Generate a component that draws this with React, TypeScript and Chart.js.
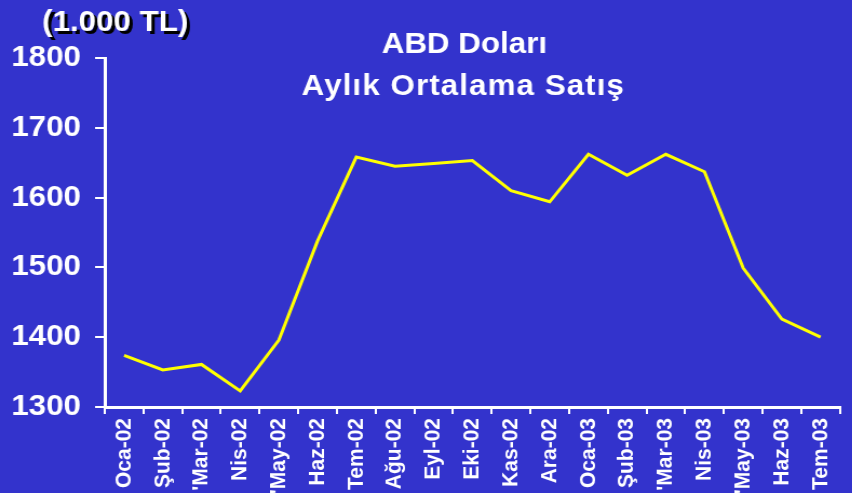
import { useEffect, useRef } from "react";
import { Chart, registerables } from "chart.js";

Chart.register(...registerables);

const categories = [
  "Oca-02", "Şub-02", "'Mar-02", "Nis-02", "'May-02", "Haz-02", "Tem-02",
  "Ağu-02", "Eyl-02", "Eki-02", "Kas-02", "Ara-02", "Oca-03", "Şub-03",
  "'Mar-03", "Nis-03", "'May-03", "Haz-03", "Tem-03",
];
const usdSales = [
  1374, 1353, 1361, 1323, 1396, 1538, 1658, 1645, 1649, 1653, 1610, 1594,
  1662, 1632, 1662, 1637, 1499, 1426, 1400,
];
const yMin = 1300;
const yMax = 1800;
const yStep = 100;
const titleLine1 = "ABD Doları";
const titleLine2 = "Aylık Ortalama Satış";
const unitLabel = "(1.000 TL)";

const W = 852;
const H = 493;
const STRETCH = 1.08;
const CW = Math.round(W / STRETCH);
const FONT = "'Liberation Sans', Arial, Helvetica, sans-serif";

export default function App() {
  const ref = useRef<HTMLCanvasElement>(null);

  useEffect(() => {
    document.body.style.margin = "0";
    const canvas = ref.current;
    if (!canvas) return;

    const textPlugin = {
      id: "textPlugin",
      afterDraw(chart: any) {
        const ctx = chart.ctx as CanvasRenderingContext2D;
        ctx.save();
        ctx.textBaseline = "alphabetic";
        ctx.font = `bold 29px ${FONT}`;
        ctx.fillStyle = "#ffffff";
        ctx.textAlign = "center";
        ctx.fillText(titleLine1, 430, 53);
        (ctx as any).letterSpacing = "1px";
        ctx.fillText(titleLine2, 429, 95);
        (ctx as any).letterSpacing = "0px";
        ctx.textAlign = "left";
        ctx.fillStyle = "#000000";
        ctx.fillText(unitLabel, 42, 34);
        ctx.fillStyle = "#ffffff";
        ctx.fillText(unitLabel, 39, 31);
        ctx.restore();
      },
    };

    const chart = new Chart(canvas, {
      type: "line",
      data: {
        labels: categories,
        datasets: [
          {
            data: usdSales,
            borderColor: "#ffff00",
            borderWidth: 3,
            pointRadius: 0,
            tension: 0,
            fill: false,
          },
        ],
      },
      options: {
        responsive: false,
        animation: false,
        devicePixelRatio: 1,
        layout: { padding: { top: 58, right: 1, left: 0, bottom: 0 } },
        plugins: {
          legend: { display: false },
          tooltip: { enabled: false },
          title: { display: false },
        },
        scales: {
          x: {
            type: "category",
            offset: true,
            grid: {
              display: true,
              offset: true,
              drawOnChartArea: false,
              drawTicks: true,
              tickLength: 7,
              color: "#ffffff",
              lineWidth: 2,
            },
            border: { display: true, color: "#ffffff", width: 3 },
            ticks: {
              color: "#ffffff",
              font: { family: FONT, size: 21, weight: "bold" },
              minRotation: 90,
              maxRotation: 90,
              autoSkip: false,
              padding: 4,
            },
            afterFit: (s: any) => {
              s.height = 86;
            },
          },
          y: {
            min: yMin,
            max: yMax,
            ticks: {
              stepSize: yStep,
              color: "#ffffff",
              font: { family: FONT, size: 29, weight: "bold" },
              padding: 13,
              callback: (v: any) => String(v),
            },
            grid: {
              drawOnChartArea: false,
              drawTicks: true,
              tickLength: 9,
              color: "#ffffff",
              lineWidth: 2,
            },
            border: { display: true, color: "#ffffff", width: 3 },
            afterFit: (s: any) => {
              s.width = 97;
            },
          },
        },
      } as any,
      plugins: [textPlugin],
    });

    return () => chart.destroy();
  }, []);

  return (
    <div
      style={{
        position: "absolute",
        left: 0,
        top: 0,
        width: W,
        height: H,
        background: "#3333cc",
        overflow: "hidden",
      }}
    >
      <canvas
        ref={ref}
        width={CW}
        height={H}
        style={{
          display: "block",
          transform: `scaleX(${STRETCH})`,
          transformOrigin: "0 0",
        }}
      />
    </div>
  );
}
